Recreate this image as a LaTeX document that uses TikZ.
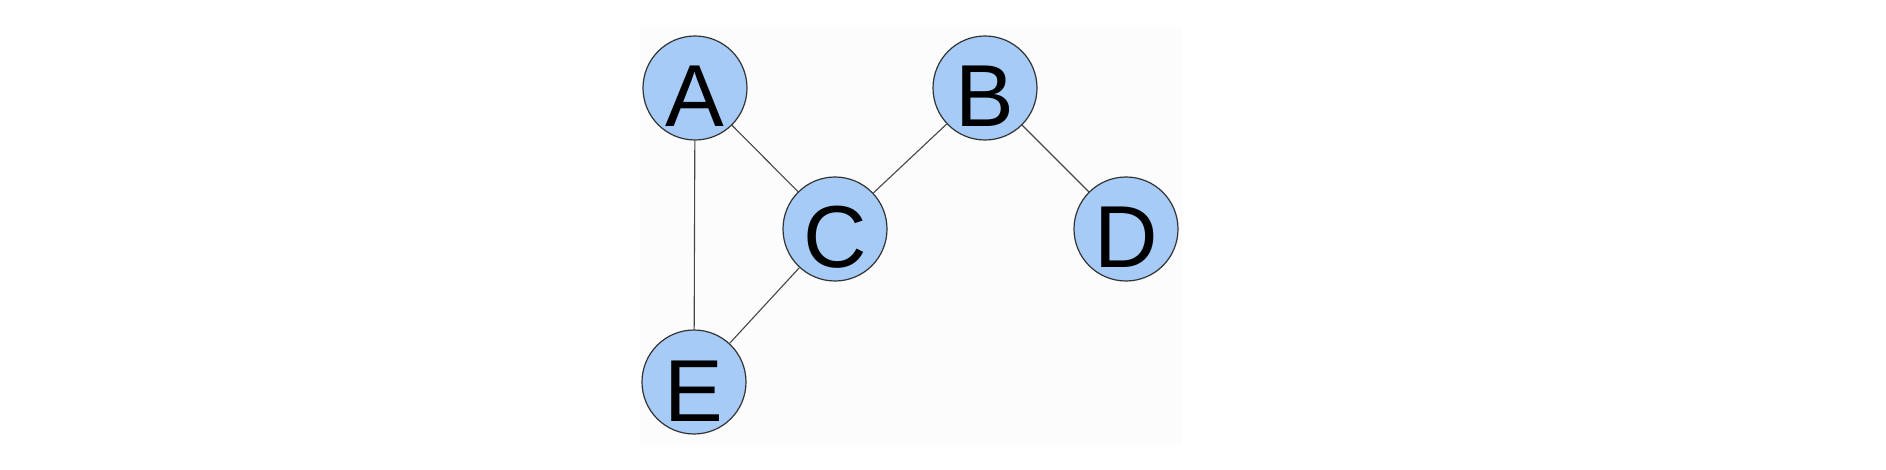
\documentclass[tikz,border=0pt]{standalone}
\usepackage{fontspec}
\setmainfont{Liberation Sans}
\usepackage{xcolor}
\definecolor{nodeblue}{RGB}{166,203,247}
\definecolor{edgegray}{RGB}{70,70,70}

\begin{document}
\begin{tikzpicture}[x=1pt, y=-1pt,
      every node/.style = {shape=circle, draw=black!80, line width=1.2pt,
        fill=nodeblue, minimum size=104pt, inner sep=0pt,
        text height=78pt, text depth=0pt, font=\fontsize{88}{90}\selectfont},
      edge/.style = {draw=edgegray, line width=1.1pt}]
  \useasboundingbox (0,0) rectangle (1886,470);
  \fill[black!1] (640,27) rectangle (1182,445);
  \node (A) at (695,88) {A};
  \node (B) at (985,88) {B};
  \node (C) at (835,229) {C};
  \node (D) at (1126,229) {D};
  \node (E) at (694,382) {E};
  \draw[edge] (A) -- (E);
  \draw[edge] (A) -- (C);
  \draw[edge] (C) -- (B);
  \draw[edge] (C) -- (E);
  \draw[edge] (B) -- (D);
\end{tikzpicture}
\end{document}
